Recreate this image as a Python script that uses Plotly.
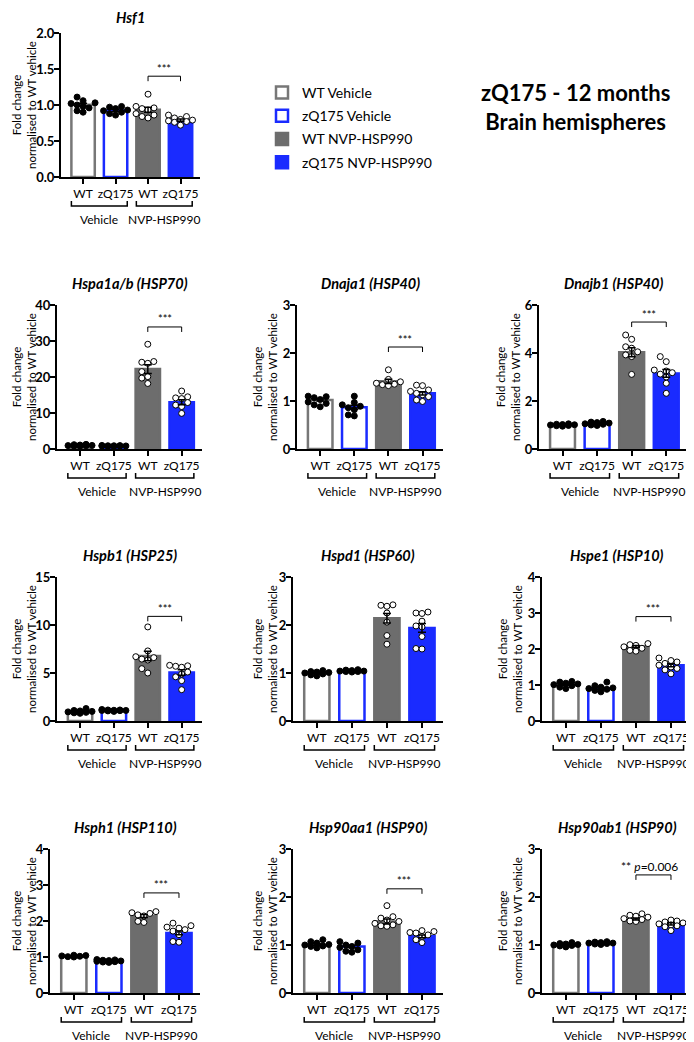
import plotly.graph_objects as go

# the page body keeps an 8px margin, so the figure is drawn 8px in from the corner
PAD = 8
W, H = 694 - PAD, 1042 - PAD

GENES = [
    "Hsf1", "Hspa1a/b (HSP70)", "Dnaja1 (HSP40)", "Dnajb1 (HSP40)",
    "Hspb1 (HSP25)", "Hspd1 (HSP60)", "Hspe1 (HSP10)",
    "Hsph1 (HSP110)", "Hsp90aa1 (HSP90)", "Hsp90ab1 (HSP90)",
]
GROUPS = ["WT Vehicle", "zQ175 Vehicle", "WT NVP-HSP990", "zQ175 NVP-HSP990"]
GENOTYPE_TICKS = ["WT", "zQ175", "WT", "zQ175"]
TREATMENTS = ["Vehicle", "NVP-HSP990"]
Y_MAX = [2, 40, 3, 6, 15, 3, 4, 4, 3, 3]
Y_STEP = [0.5, 10, 1, 2, 5, 1, 1, 1, 1, 1]

# bar heights (mean) and SEM per group: WT veh, zQ175 veh, WT NVP, zQ175 NVP
MEANS = [
    [1.005, 0.925, 0.935, 0.79],
    [1.0, 0.9, 22.2, 13.0],
    [1.02, 0.87, 1.41, 1.16],
    [1.03, 1.07, 4.03, 3.15],
    [1.0, 1.1, 6.77, 5.05],
    [1.0, 1.04, 2.14, 1.94],
    [1.01, 0.91, 2.07, 1.55],
    [1.02, 0.9, 2.14, 1.67],
    [1.01, 0.97, 1.49, 1.18],
    [1.0, 1.04, 1.54, 1.44],
]
SEMS = [
    [0.02, 0.015, 0.035, 0.015],
    [0.1, 0.08, 1.2, 0.7],
    [0.02, 0.04, 0.045, 0.035],
    [0.01, 0.02, 0.19, 0.16],
    [0.05, 0.03, 0.5, 0.28],
    [0.015, 0.01, 0.1, 0.09],
    [0.02, 0.03, 0.025, 0.04],
    [0.01, 0.01, 0.04, 0.05],
    [0.02, 0.025, 0.05, 0.03],
    [0.01, 0.01, 0.02, 0.025],
]
SIG_LABELS = ["***", "***", "***", "***", "***", None, "***", "***", "***",
              "** <i>p</i>=0.006"]

HSF1 = [
    [1.11, 1.06, 1.03, 1.02, 1.00, 0.98, 0.96, 0.92, 0.90],
    [0.98, 0.97, 0.95, 0.93, 0.92, 0.90, 0.88, 0.86],
    [1.15, 0.98, 0.96, 0.95, 0.93, 0.88, 0.86, 0.84, 0.82],
    [0.86, 0.84, 0.82, 0.80, 0.79, 0.78, 0.77, 0.76, 0.72],
]
HSPA1 = [
    [1.3, 1.1, 1.0, 0.9, 0.85, 0.8, 1.2, 0.95],
    [0.8, 0.9, 1.0, 0.7, 0.85, 0.95, 0.75, 0.8, 0.9],
    [29.1, 24.3, 24.1, 23.8, 21.5, 20.1, 19.7, 18.2],
    [16.1, 14.5, 14.2, 14.0, 12.9, 12.2, 11.8, 9.9],
]
DNAJA1 = [
    [1.10, 1.09, 1.07, 1.03, 0.98, 0.95, 0.92, 0.88],
    [1.10, 0.97, 0.92, 0.89, 0.86, 0.82, 0.71, 0.69],
    [1.65, 1.45, 1.40, 1.37, 1.35, 1.34, 1.32],
    [1.33, 1.32, 1.23, 1.20, 1.16, 1.13, 1.09, 1.02, 0.99],
]
DNAJB1 = [
    [1.05, 1.02, 1.0, 0.98, 0.97, 1.03, 0.95, 1.01],
    [1.15, 1.1, 1.08, 1.05, 1.03, 1.0, 0.98, 1.12],
    [4.75, 4.57, 4.26, 4.20, 4.05, 3.92, 3.85, 3.11],
    [3.85, 3.64, 3.29, 3.25, 3.18, 3.12, 3.0, 2.74, 2.32],
]
HSPB1 = [
    [1.3, 1.1, 1.0, 0.9, 0.85, 1.05, 0.95, 0.8],
    [1.2, 1.15, 1.1, 1.05, 1.0, 1.1, 1.12, 1.08, 1.15],
    [9.8, 7.3, 6.7, 6.6, 6.45, 6.35, 5.45, 5.0],
    [5.8, 5.75, 5.7, 5.6, 5.1, 4.9, 4.6, 4.2, 3.26],
]
HSPD1 = [
    [1.05, 1.03, 1.0, 0.98, 0.96, 1.02, 0.94, 1.01],
    [1.07, 1.05, 1.04, 1.03, 1.02, 1.06, 1.04, 1.03],
    [2.42, 2.41, 2.39, 2.25, 2.06, 1.78, 1.60],
    [2.27, 2.25, 2.24, 2.08, 1.98, 1.96, 1.76, 1.51, 1.50],
]
HSPE1 = [
    [1.10, 1.08, 1.05, 1.01, 0.98, 0.94, 0.90, 1.03],
    [1.08, 0.98, 0.94, 0.90, 0.88, 0.85, 0.81, 0.92],
    [2.15, 2.12, 2.10, 2.06, 2.02, 1.96, 1.94],
    [1.75, 1.68, 1.64, 1.60, 1.55, 1.50, 1.46, 1.42, 1.31],
]
HSPH1 = [
    [1.05, 1.03, 1.02, 1.01, 1.0, 1.04],
    [0.93, 0.92, 0.9, 0.88, 0.86, 0.85, 0.91, 0.89, 0.87],
    [2.26, 2.23, 2.21, 2.17, 2.14, 1.99, 1.96],
    [1.94, 1.87, 1.83, 1.80, 1.76, 1.72, 1.62, 1.43, 1.41],
]
HSP90AA1 = [
    [1.11, 1.07, 1.04, 1.01, 0.98, 0.94, 1.0, 0.97],
    [1.07, 1.04, 0.97, 0.90, 0.87, 0.85, 1.0, 0.95],
    [1.82, 1.59, 1.56, 1.52, 1.49, 1.45, 1.42, 1.40, 1.39],
    [1.30, 1.28, 1.26, 1.25, 1.21, 1.18, 1.11, 1.05],
]
HSP90AB1 = [
    [1.05, 1.03, 1.01, 1.0, 0.98, 0.96, 0.99, 1.02],
    [1.07, 1.06, 1.05, 1.04, 1.03, 1.02, 1.01, 1.04],
    [1.65, 1.62, 1.6, 1.58, 1.55, 1.53, 1.5, 1.49],
    [1.52, 1.5, 1.48, 1.46, 1.44, 1.42, 1.4, 1.3, 1.38],
]
POINTS = [HSF1, HSPA1, DNAJA1, DNAJB1, HSPB1, HSPD1, HSPE1, HSPH1, HSP90AA1, HSP90AB1]

# ---- layout / style ----
FONT = "Lato"
FILL = ["white", "white", "#6d6d6d", "#1a2bff"]
EDGE = ["#777777", "#1a2bff", "#6d6d6d", "#1a2bff"]
DOT_FILL = ["black", "black", "white", "white"]
# panel boxes in page px: left, right, top, bottom
BOXES = [
    (61, 200, 33, 177),
    (57, 202, 305, 449), (297, 443, 305, 449), (539, 687, 305, 449),
    (57, 202, 577, 721), (293, 443, 577, 721), (542, 692, 577, 721),
    (50, 200, 849, 993), (293, 443, 849, 993), (542, 692, 849, 993),
]
YTITLE_OFF = [41, 40, 32, 31, 40, 28, 32, 33, 28, 32]
SIG_Y = [1.40, 33.9, 2.125, 5.29, 10.9, None, 2.9, 2.78, 2.17, 2.46]
X_RANGE = [-0.68, 3.6]
BAR_W = 0.72
DOT = 6.0


def px_x(v):
    return (v - PAD) / W


def px_y(v):
    return 1 - (v - PAD) / H


def swarm(vals, per_y, per_x):
    """simple beeswarm offsets (x units) so dots don't overlap"""
    placed = []
    offs = [0.0] * len(vals)
    order = sorted(range(len(vals)), key=lambda i: vals[i])
    for i in order:
        y = vals[i] * per_y
        best, best_d = 0, -1.0
        for c in [0, -1, 1, -2, 2]:
            x = c * DOT
            d = min([((x - a) ** 2 + (y - b) ** 2) ** 0.5 for a, b in placed] or [1e9])
            if d >= DOT - 0.5:
                best = c
                break
            if d > best_d:
                best, best_d = c, d
        placed.append((best * DOT, y))
        offs[i] = best * DOT / per_x
    return offs


fig = go.Figure()
layout = dict(
    width=W, height=H, margin=dict(l=0, r=0, t=0, b=0, autoexpand=False),
    plot_bgcolor="white", paper_bgcolor="white", barmode="overlay",
    font=dict(family=FONT, color="black"),
)
shapes, annotations = [], []

for k, gene in enumerate(GENES):
    sfx = "" if k == 0 else str(k + 1)
    xa, ya = "x" + sfx, "y" + sfx
    l, r, t, b = BOXES[k]
    per_y = (b - t) / Y_MAX[k]
    per_x = (r - l) / (X_RANGE[1] - X_RANGE[0])

    for g in range(4):
        fig.add_trace(go.Bar(
            x=[g], y=[MEANS[k][g]], width=BAR_W, name=GROUPS[g],
            marker=dict(color=FILL[g], line=dict(color=EDGE[g], width=2.5)),
            showlegend=(k == 0), legendgroup=GROUPS[g], xaxis=xa, yaxis=ya,
            hoverinfo="skip",
        ))
    for g in range(4):
        offs = swarm(POINTS[k][g], per_y, per_x)
        fig.add_trace(go.Scatter(
            x=[g + o for o in offs], y=POINTS[k][g], mode="markers",
            marker=dict(size=DOT, color=DOT_FILL[g], line=dict(color="black", width=1)),
            showlegend=False, xaxis=xa, yaxis=ya, hoverinfo="skip",
        ))
    fig.add_trace(go.Scatter(
        x=[0, 1, 2, 3], y=MEANS[k], mode="markers", marker=dict(size=0.1, color="black"),
        error_y=dict(type="data", array=SEMS[k], color="black", thickness=1.5, width=4),
        showlegend=False, xaxis=xa, yaxis=ya, hoverinfo="skip",
    ))

    ticks = [i * Y_STEP[k] for i in range(int(round(Y_MAX[k] / Y_STEP[k])) + 1)]
    layout["xaxis" + sfx] = dict(
        domain=[px_x(l), px_x(r)], range=X_RANGE, anchor=ya,
        tickvals=[0, 1, 2, 3], ticktext=GENOTYPE_TICKS,
        showline=True, linecolor="black", linewidth=2,
        ticks="outside", ticklen=5, tickwidth=2, tickcolor="black",
        tickfont=dict(size=12, family=FONT), showgrid=False, zeroline=False,
        fixedrange=True,
    )
    layout["yaxis" + sfx] = dict(
        domain=[px_y(b), px_y(t)], range=[0, Y_MAX[k]], anchor=xa,
        tickvals=ticks, tickformat=".1f" if Y_STEP[k] < 1 else "d",
        showline=True, linecolor="black", linewidth=2,
        ticks="outside", ticklen=5, tickwidth=2, tickcolor="black",
        tickfont=dict(size=13, family=FONT, weight="bold"), ticklabelstandoff=-3,
        showgrid=False, zeroline=False, fixedrange=True,
    )

    # gene title (kept inside the page edge)
    title_y = max(t - 22, 17)
    annotations.append(dict(
        text="<b><i>%s</i></b>" % gene, xref=xa + " domain", yref="paper",
        x=0.5, y=px_y(title_y), showarrow=False, xanchor="center", yanchor="middle",
        font=dict(size=14.5, family=FONT),
    ))
    # y title (kept inside the page edge)
    annotations.append(dict(
        text="Fold change<br>normalised to WT vehicle", textangle=-90,
        xref="paper", yref=ya + " domain", x=px_x(max(l - YTITLE_OFF[k], 24)), y=0.5,
        showarrow=False, xanchor="center", yanchor="middle",
        font=dict(size=11.5, family=FONT),
    ))
    # treatment brackets + labels
    for j, tr in enumerate(TREATMENTS):
        c0, c1 = 2 * j - BAR_W / 2, 2 * j + 1 + BAR_W / 2
        y_line, y_end = -29 / (b - t), -24 / (b - t)
        shapes.append(dict(
            type="path", xref=xa, yref=ya + " domain",
            path="M %f,%f L %f,%f L %f,%f L %f,%f" % (c0, y_end, c0, y_line, c1, y_line, c1, y_end),
            line=dict(color="black", width=1.5),
        ))
        annotations.append(dict(
            text=tr, xref=xa, yref=ya + " domain", x=2 * j + 0.5, y=-42 / (b - t),
            showarrow=False, xanchor="center", yanchor="middle",
            font=dict(size=12, family=FONT),
        ))
    # significance bracket
    if SIG_LABELS[k]:
        ys = SIG_Y[k]
        drop = 5 / per_y
        shapes.append(dict(
            type="path", xref=xa, yref=ya,
            path="M 2,%f L 2,%f L 3,%f L 3,%f" % (ys - drop, ys, ys, ys - drop),
            line=dict(color="black", width=1),
        ))
        annotations.append(dict(
            text=SIG_LABELS[k], xref=xa, yref=ya, x=2.5 if SIG_LABELS[k] == "***" else 2.4,
            y=ys + 8 / per_y, showarrow=False, xanchor="center", yanchor="middle",
            font=dict(size=11 if SIG_LABELS[k] == "***" else 12, family=FONT),
        ))

annotations.append(dict(
    text="<b>zQ175 - 12 months<br>Brain hemispheres</b>", xref="paper", yref="paper",
    x=px_x(575), y=px_y(107), showarrow=False, xanchor="center", yanchor="middle",
    font=dict(size=22, family=FONT),
))

layout["shapes"] = shapes
layout["annotations"] = annotations
layout["legend"] = dict(
    x=px_x(262), y=px_y(77), xanchor="left", yanchor="top",
    font=dict(size=14, family=FONT), tracegroupgap=2, bgcolor="rgba(0,0,0,0)",
    itemwidth=30,
)
fig.update_layout(**layout)
fig.write_html("out.html")
